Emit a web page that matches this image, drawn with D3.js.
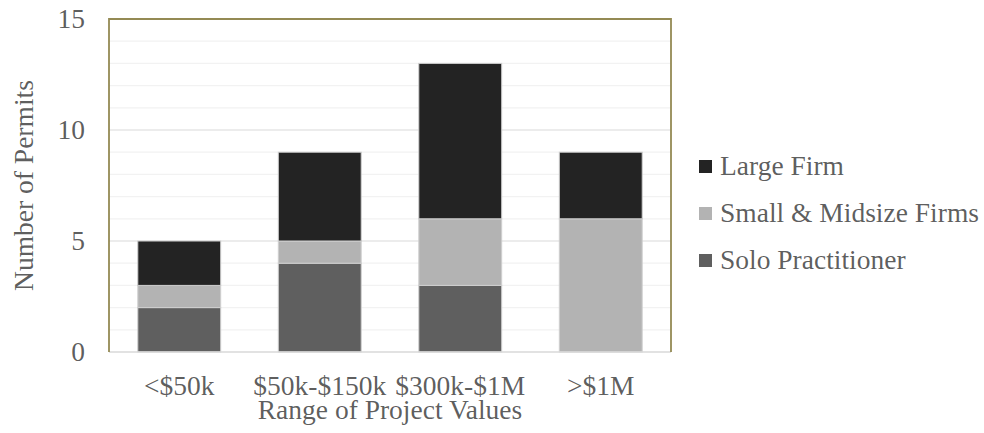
<!DOCTYPE html>
<html>
<head>
<meta charset="utf-8">
<script src="https://cdn.jsdelivr.net/npm/d3@7"></script>
</head>
<body style="margin:0">
<svg id="chart" width="984" height="433" font-family="Liberation Serif"></svg>
<script>
// Permits by project value range, split by firm size
const categories = ["<$50k", "$50k-$150k", "$300k-$1M", ">$1M"];
const solo = [2, 4, 3, 0];
const smallMid = [1, 1, 3, 6];
const large = [2, 4, 7, 3];
const seriesNames = ["Solo Practitioner", "Small & Midsize Firms", "Large Firm"];
const seriesColors = ["#5f5f5f", "#b3b3b3", "#232323"];
const yTicks = [0, 5, 10, 15];

const svg = d3.select("#chart");
const W = 984, H = 433;
const margin = { left: 109, top: 19, right: W - 671, bottom: H - 352 };
const plotW = W - margin.left - margin.right;
const plotH = H - margin.top - margin.bottom;
const labelSize = 27.5;
const labelFont = "Liberation Serif";

const x = d3.scaleBand().domain(categories).range([margin.left, margin.left + plotW])
  .paddingInner(0.41).paddingOuter(0.205);
const y = d3.scaleLinear().domain([0, 15]).range([margin.top + plotH, margin.top]);

// Gridlines: every unit, darker at labelled ticks
svg.append("g").selectAll("line").data(d3.range(1, 15)).join("line")
  .attr("x1", margin.left).attr("x2", margin.left + plotW)
  .attr("y1", d => y(d)).attr("y2", d => y(d))
  .attr("stroke", d => d % 5 === 0 ? "#d9d9d9" : "#f2f2f2")
  .attr("stroke-width", 1.2);

// Stacked bars
const rows = categories.map((c, i) => ({ cat: c, s0: solo[i], s1: smallMid[i], s2: large[i] }));
const layers = d3.stack().keys(["s0", "s1", "s2"])(rows);
layers.forEach((layer, li) => {
  svg.append("g").selectAll("rect").data(layer.filter(d => d[1] > d[0])).join("rect")
    .attr("x", d => x(d.data.cat))
    .attr("width", x.bandwidth())
    .attr("y", d => y(d[1]))
    .attr("height", d => y(d[0]) - y(d[1]))
    .attr("fill", seriesColors[li])
    .attr("stroke", "#cfcfcf")
    .attr("stroke-width", 1);
});

// Baseline axis
svg.append("line")
  .attr("x1", margin.left).attr("x2", margin.left + plotW)
  .attr("y1", y(0)).attr("y2", y(0))
  .attr("stroke", "#d9d9d9").attr("stroke-width", 1.5);

// Plot frame (top, left, right)
svg.append("path")
  .attr("d", `M${margin.left},${y(0)} V${margin.top} H${margin.left + plotW} V${y(0)}`)
  .attr("fill", "none").attr("stroke", "#948a54").attr("stroke-width", 1.8);

// Y axis tick labels
const ya = svg.append("g").attr("transform", `translate(${margin.left},0)`)
  .call(d3.axisLeft(y).tickValues(yTicks).tickSize(0).tickPadding(24));
ya.select(".domain").remove();

// X axis tick labels
const xa = svg.append("g").attr("transform", `translate(0,${y(0)})`)
  .call(d3.axisBottom(x).tickSize(0).tickPadding(23));
xa.select(".domain").remove();

// Axis groups: drop the axis defaults so labels inherit the chart font
[ya, xa].forEach(a => a.attr("fill", null).attr("font-family", null).attr("font-size", null));

// Axis titles
svg.append("text").attr("x", margin.left + plotW / 2).attr("y", 419)
  .attr("text-anchor", "middle").text("Range of Project Values");
svg.append("text").attr("transform", `translate(33,${margin.top + plotH / 2}) rotate(-90)`)
  .attr("text-anchor", "middle").text("Number of Permits");

// Legend (top series first)
const legendOrder = [2, 1, 0];
legendOrder.forEach((si, k) => {
  const cy = 166.5 + k * 47;
  svg.append("rect").attr("x", 699).attr("y", cy - 6.5).attr("width", 13).attr("height", 13)
    .attr("fill", seriesColors[si]);
  svg.append("text").attr("x", 720).attr("y", cy + 8.5).text(seriesNames[si]);
});

// Shared text styling: dark grey labels in the serif face
svg.selectAll("text")
  .attr("fill", null)
  .attr("font-family", labelFont)
  .attr("font-size", labelSize)
  .attr("fill-opacity", 0.65);
</script>
</body>
</html>
